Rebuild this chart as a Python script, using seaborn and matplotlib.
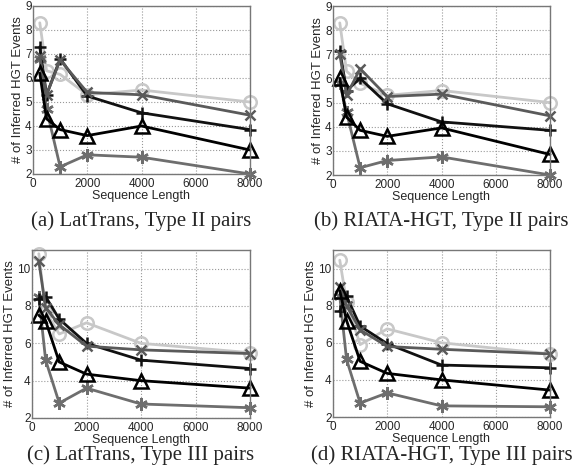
import matplotlib
matplotlib.use("Agg")
import matplotlib.pyplot as plt
import pandas as pd
import seaborn as sns

# sequence lengths (x axis)
seq_len = [250, 500, 1000, 2000, 4000, 8000]

# (a) LatTrans, Type II pairs
a_circle = [8.3, 6.3, 6.15, 5.3, 5.5, 5.0]
a_star = [6.8, 4.7, 2.3, 2.8, 2.7, 2.0]
a_plus = [7.3, 5.3, 6.8, 5.25, 4.55, 3.85]
a_cross = [6.9, 5.3, 6.75, 5.4, 5.3, 4.45]
a_tri = [6.2, 4.3, 3.85, 3.6, 4.0, 3.0]

# (b) RIATA-HGT, Type II pairs
b_circle = [8.3, 6.3, 5.8, 5.3, 5.5, 5.0]
b_star = [5.8, 4.6, 2.3, 2.6, 2.75, 2.0]
b_plus = [7.15, 5.5, 6.0, 4.95, 4.2, 3.85]
b_cross = [7.0, 5.3, 6.4, 5.25, 5.35, 4.45]
b_tri = [6.0, 4.4, 3.85, 3.6, 3.95, 2.85]

# (c) LatTrans, Type III pairs
c_circle = [10.8, 7.7, 6.5, 7.1, 6.0, 5.5]
c_star = [8.5, 5.1, 2.8, 3.6, 2.75, 2.55]
c_plus = [8.4, 8.5, 7.3, 6.0, 5.1, 4.65]
c_cross = [10.4, 7.9, 7.0, 5.85, 5.65, 5.45]
c_tri = [7.5, 7.2, 5.0, 4.35, 4.0, 3.6]

# (d) RIATA-HGT, Type III pairs
d_circle = [10.45, 8.2, 5.9, 6.75, 6.0, 5.4]
d_star = [8.5, 5.1, 2.75, 3.3, 2.6, 2.55]
d_plus = [7.7, 8.5, 6.9, 5.95, 4.8, 4.65]
d_cross = [9.0, 8.0, 6.7, 5.8, 5.65, 5.4]
d_tri = [8.8, 7.2, 5.0, 4.35, 4.0, 3.45]

captions = ["(a) LatTrans, Type II pairs", "(b) RIATA-HGT, Type II pairs",
            "(c) LatTrans, Type III pairs", "(d) RIATA-HGT, Type III pairs"]

panels = [
    [a_circle, a_star, a_plus, a_cross, a_tri],
    [b_circle, b_star, b_plus, b_cross, b_tri],
    [c_circle, c_star, c_plus, c_cross, c_tri],
    [d_circle, d_star, d_plus, d_cross, d_tri],
]

# style for each series: color, marker, face, marker size
styles = [
    ("#c8c8c8", "o", "none", 9),
    ("#6e6e6e", (6, 2, 0), "#6e6e6e", 9),
    ("#111111", "+", "#111111", 9),
    ("#5a5a5a", "x", "#5a5a5a", 7),
    ("#000000", "^", "none", 10),
]

sns.set_style("white")
plt.rcParams["font.family"] = ["Liberation Sans", "DejaVu Sans"]

fig = plt.figure(figsize=(5.73, 4.74), dpi=100)
W, H = 573, 474
boxes = [(33, 6, 250, 174), (333, 6, 550, 175),
         (32, 250, 250, 418), (333, 250, 550, 417)]
caption_y = [221, 221, 455, 455]

for i, (l, t, r, b) in enumerate(boxes):
    ax = fig.add_axes([l / W, 1 - b / H, (r - l) / W, (b - t) / H])
    for vals, (col, mk, face, ms) in zip(panels[i], styles):
        df = pd.DataFrame({"len": seq_len, "n": vals})
        sns.lineplot(data=df, x="len", y="n", ax=ax, color=col, marker=mk,
                     markersize=ms, markerfacecolor=face, markeredgecolor=col,
                     markeredgewidth=1.8, linewidth=2, clip_on=False)
    ax.set_xlim(0, 8000)
    ax.set_xticks([0, 2000, 4000, 6000, 8000])
    if i < 2:
        ax.set_ylim(2, 9)
        ax.set_yticks(range(2, 10))
    else:
        ax.set_ylim(2, 11)
        ax.set_yticks([2, 4, 6, 8, 10])
    ax.grid(True, linestyle=":", color="#999999", linewidth=0.8)
    for s in ax.spines.values():
        s.set_color("#777777")
        s.set_linewidth(1)
    ax.tick_params(axis="x", labelsize=8.5, pad=3, length=2, direction="in")
    ax.tick_params(axis="y", labelsize=8.5, pad=1, length=2, direction="in")
    ax.set_xlabel("Sequence Length", fontsize=9, labelpad=0)
    ax.set_ylabel("# of Inferred HGT Events", fontsize=9.5, labelpad=1)
    fig.text((l + r) / 2 / W, 1 - caption_y[i] / H, captions[i], ha="center",
             va="center", fontsize=15, family="Liberation Serif")

plt.savefig("out.png", dpi=100)
